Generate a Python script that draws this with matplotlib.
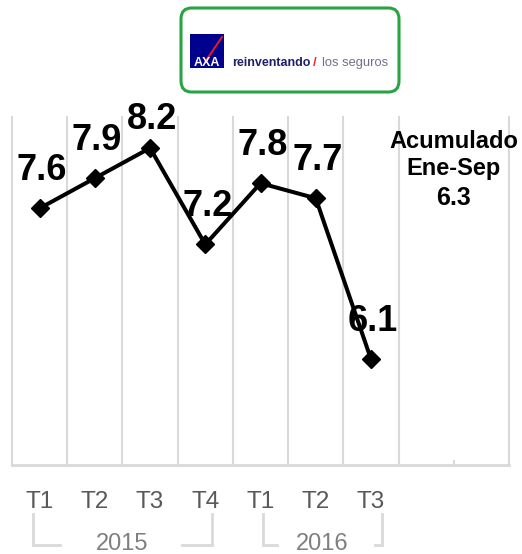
import matplotlib
matplotlib.use("Agg")
import matplotlib.pyplot as plt
from matplotlib.patches import FancyBboxPatch, Rectangle
from matplotlib.lines import Line2D

# ---- data ----
quarters = ["T1", "T2", "T3", "T4", "T1", "T2", "T3"]
values = [7.6, 7.9, 8.2, 7.24, 7.85, 7.7, 6.1]
value_labels = ["7.6", "7.9", "8.2", "7.2", "7.8", "7.7", "6.1"]
years = ["2015", "2016"]
year_spans = [(0, 3), (4, 6)]
summary_lines = ["Acumulado", "Ene-Sep", "6.3"]
n_slots = 9

W, H = 522, 554
fig = plt.figure(figsize=(W / 100, H / 100), dpi=100)
plt.rcParams['font.family'] = ['Liberation Sans', 'DejaVu Sans']

def fx(px):
    return px / W

def fy(py):
    return 1 - py / H

# axes
left, right, top, bottom = 12, 509, 117, 465
ax = fig.add_axes([fx(left), fy(bottom), fx(right - left), (bottom - top) / H])
ax.set_xlim(-0.5, n_slots - 0.5)
ax.set_ylim(5.045, 8.509)
for s in ax.spines.values():
    s.set_visible(False)
ax.set_xticks([])
ax.set_yticks([])

grid_c = "#d9d9d9"
for b in range(n_slots + 1):
    xb = b - 0.5
    if b == 8:
        ax.plot([xb, xb], [0, 0.012], transform=ax.get_xaxis_transform(),
                color=grid_c, lw=1.5, clip_on=False)
        continue
    ax.plot([xb, xb], [0, 1], transform=ax.get_xaxis_transform(),
            color=grid_c, lw=1.5, clip_on=False, zorder=1)
ax.plot([-0.5, n_slots - 0.5], [0, 0], transform=ax.get_xaxis_transform(),
        color=grid_c, lw=2, clip_on=False, zorder=1)

xs = list(range(len(values)))
ax.plot(xs, values, color="black", lw=2.9, marker="D", ms=8.8,
        mfc="black", mec="black", mew=1, zorder=3, clip_on=False)

for i, (v, lab) in enumerate(zip(values, value_labels)):
    off = 14 if i == 2 else 20.5
    ax.annotate(lab, (i, v), xytext=(1.5, off), textcoords="offset points",
                ha="center", va="baseline", fontsize=26, fontweight="bold",
                color="black", annotation_clip=False, zorder=4)

# summary text
ah = bottom - top
for txt, ypx, fs in zip(summary_lines, [148, 175, 205], [17, 17, 18]):
    ax.text(7.5, (bottom - ypx) / ah, txt, transform=ax.get_xaxis_transform(),
            ha="center", va="baseline", fontsize=fs, fontweight="bold",
            color="black", clip_on=False)

# x tick labels
for i, q in enumerate(quarters):
    ax.text(i, (bottom - 508) / ah, q, transform=ax.get_xaxis_transform(),
            ha="center", va="baseline", fontsize=17.5, color="#595959",
            clip_on=False)

# year labels and brackets
br_c = "#d9d9d9"
y_top = (bottom - 514) / ah
y_bot = (bottom - 545) / ah
bracket_shape = [(-0.12, 0.12, 0.49, 0.54), (0.045, 0.2, 0.25, 0.13)]
tr = ax.get_xaxis_transform()
for yr, (a, b), (dl, dr, pl, pr) in zip(years, year_spans, bracket_shape):
    xl = a + dl
    xr = b + dr
    xc = (xl + xr) / 2
    ax.text(xc, (bottom - 550) / ah, yr, transform=tr,
            ha="center", va="baseline", fontsize=17, color="#7f7f7f",
            clip_on=False)
    ax.plot([xl, xl, xl + pl], [y_top, y_bot, y_bot], transform=tr,
            color=br_c, lw=2, clip_on=False, solid_joinstyle="miter")
    ax.plot([xr - pr, xr, xr], [y_bot, y_bot, y_top], transform=tr,
            color=br_c, lw=2, clip_on=False, solid_joinstyle="miter")

# logo box
box = FancyBboxPatch((fx(181), fy(92)), fx(218), (92 - 8) / H,
                     boxstyle="round,pad=0,rounding_size=0.02",
                     transform=fig.transFigure, facecolor="white",
                     edgecolor="#2aa344", lw=2.2)
fig.patches.append(box)
sq = Rectangle((fx(190), fy(68)), fx(34), 34 / H, transform=fig.transFigure,
               facecolor="#00008f", edgecolor="none")
fig.patches.append(sq)
fig.lines.append(Line2D([fx(205), fx(222)], [fy(62), fy(37)],
                        transform=fig.transFigure, color="#ff1721", lw=1.3))
fig.text(fx(207), fy(66), "AXA", ha="center", va="baseline", fontsize=9,
         fontweight="bold", color="white")
fig.text(fx(232), fy(66), "reinventando", ha="left", va="baseline", fontsize=9,
         fontweight="bold", color="#1f1f6b")
fig.text(fx(313), fy(66), "/", ha="left", va="baseline", fontsize=9.5,
         fontweight="bold", color="#e8302e")
fig.text(fx(322), fy(66), "los seguros", ha="left", va="baseline", fontsize=9.3,
         color="#6e7089")

fig.savefig("out.png", dpi=100)
